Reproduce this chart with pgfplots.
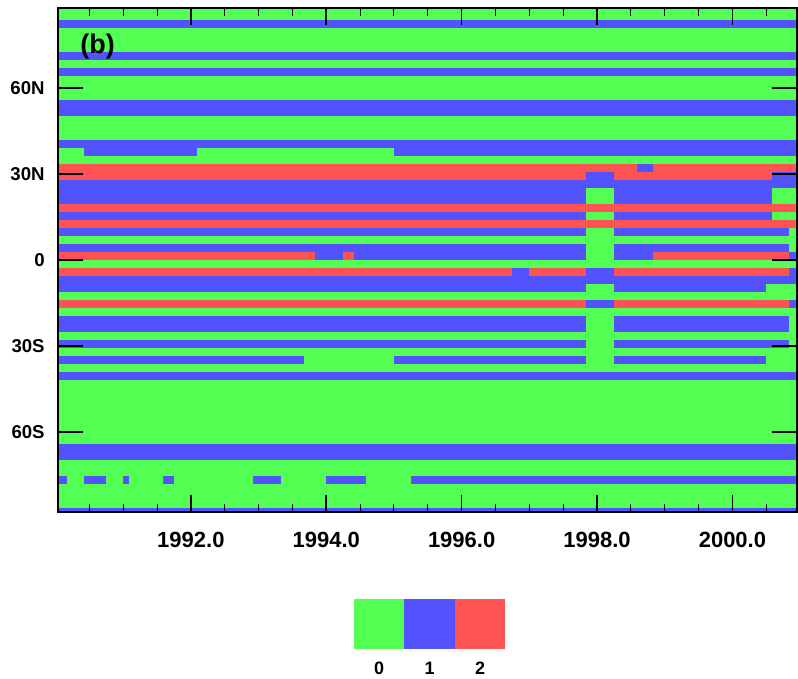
\documentclass[border=0pt]{standalone}
\usepackage{fontspec}
\setmainfont{Liberation Sans}
\usepackage{pgfplots}
\pgfplotsset{compat=1.18}
\definecolor{cg}{RGB}{82,255,82}
\definecolor{cb}{RGB}{82,82,255}
\definecolor{cr}{RGB}{255,82,82}
% x1 x2 (month boundaries), y1 y2 (Gaussian-grid row boundaries), colour
\newcommand{\B}[5]{\addplot[draw=none,fill=#5,forget plot] coordinates {(#1,#3) (#2,#3) (#2,#4) (#1,#4)};}
\begin{document}
\begin{tikzpicture}
\useasboundingbox (-29.15pt,-83.5pt) rectangle (369.85pt,256pt);
\begin{axis}[
  at={(0pt,0pt)}, anchor=south west, scale only axis,
  width=369.5pt, height=252pt,
  xmin=0, xmax=131, ymin=-31.485, ymax=31.485,
  axis line style={draw=none},
  xtick={23.5,47.5,71.5,95.5,119.5},
  xticklabels={1992.0,1994.0,1996.0,1998.0,2000.0},
  minor xtick={5.5,11.5,17.5,29.5,35.5,41.5,53.5,59.5,65.5,77.5,83.5,89.5,101.5,107.5,113.5,125.5},
  ytick=\empty,
  tick align=inside,
  major tick length=8.35pt, minor tick length=4.15pt,
  major tick style={line width=0.8pt,black},
  minor tick style={line width=0.5pt,black},
  xticklabel style={inner sep=0pt, anchor=north, yshift=-9.85pt, font=\bfseries\fontsize{11}{13}\selectfont},
  axis on top,
]
% background: category 0
\B{-1}{132}{-32}{32}{cg}
% ---- northern rows ----
\B{-1}{132}{29}{30}{cb}
\B{-1}{132}{25}{26}{cb}
\B{-1}{132}{23}{24}{cb}
\B{-1}{132}{18}{20}{cb}
\B{-1}{132}{14}{15}{cb}
\B{4.5}{24.5}{13}{14}{cb}
\B{59.5}{132}{13}{14}{cb}
\B{-1}{132}{10}{12}{cr}
\B{102.5}{105.5}{11}{12}{cb}
\B{93.5}{98.5}{10}{11}{cb}
\B{126.5}{132}{10}{11}{cb}
\B{-1}{132}{7}{10}{cb}
\B{93.5}{98.5}{7}{9}{cg}
\B{126.5}{132}{7}{9}{cg}
\B{-1}{132}{6}{7}{cr}
\B{-1}{132}{5}{6}{cb}
\B{93.5}{98.5}{5}{6}{cg}
\B{126.5}{132}{5}{6}{cg}
\B{-1}{132}{4}{5}{cr}
\B{-1}{93.5}{3}{4}{cb}
\B{98.5}{129.5}{3}{4}{cb}
\B{-1}{93.5}{1}{2}{cb}
\B{98.5}{129.5}{1}{2}{cb}
\B{-1}{45.5}{0}{1}{cr}
\B{45.5}{50.5}{0}{1}{cb}
\B{50.5}{52.5}{0}{1}{cr}
\B{52.5}{93.5}{0}{1}{cb}
\B{98.5}{105.5}{0}{1}{cb}
\B{105.5}{129.5}{0}{1}{cr}
\B{129.5}{132}{0}{1}{cb}
% ---- southern rows ----
\B{-1}{132}{-2}{-1}{cr}
\B{80.5}{83.5}{-2}{-1}{cb}
\B{93.5}{98.5}{-2}{-1}{cb}
\B{129.5}{132}{-2}{-1}{cb}
\B{-1}{132}{-3}{-2}{cb}
\B{-1}{93.5}{-4}{-3}{cb}
\B{98.5}{125.5}{-4}{-3}{cb}
\B{-1}{132}{-6}{-5}{cr}
\B{93.5}{98.5}{-6}{-5}{cb}
\B{129.5}{132}{-6}{-5}{cb}
\B{-1}{93.5}{-9}{-7}{cb}
\B{98.5}{129.5}{-9}{-7}{cb}
\B{-1}{93.5}{-11}{-10}{cb}
\B{98.5}{129.5}{-11}{-10}{cb}
\B{-1}{43.5}{-13}{-12}{cb}
\B{59.5}{93.5}{-13}{-12}{cb}
\B{98.5}{125.5}{-13}{-12}{cb}
\B{-1}{132}{-15}{-14}{cb}
\B{-1}{132}{-25}{-23}{cb}
\B{-1}{1.5}{-28}{-27}{cb}
\B{4.5}{8.5}{-28}{-27}{cb}
\B{11.5}{12.5}{-28}{-27}{cb}
\B{18.5}{20.5}{-28}{-27}{cb}
\B{34.5}{39.5}{-28}{-27}{cb}
\B{47.5}{54.5}{-28}{-27}{cb}
\B{62.5}{132}{-28}{-27}{cb}
\B{-1}{132}{-32}{-31}{cb}
\node[anchor=west, inner sep=0pt, font=\bfseries\fontsize{13.5}{16}\selectfont] at (rel axis cs:0.0294,0.9236) {(b)};
\end{axis}
% frame and latitude ticks
\begin{axis}[
  at={(0pt,0pt)}, anchor=south west, scale only axis,
  width=369.5pt, height=252pt,
  xmin=0, xmax=131, ymin=-31.485, ymax=31.485,
  axis line style={line width=1pt,black},
  xtick=\empty,
  ytick={-21.5,-10.75,0,10.75,21.5},
  yticklabels={60S,30S,0,30N,60N},
  tick align=inside,
  major tick length=12.5pt,
  major tick style={line width=0.8pt,black},
  yticklabel style={inner sep=0pt, anchor=east, xshift=-6.65pt, font=\bfseries\fontsize{9.3}{11}\selectfont},
]
\addplot[draw=none, forget plot] coordinates {(0,0)};
\end{axis}
% label bar
\begin{axis}[
  at={(147.75pt,-68.35pt)}, anchor=south west, scale only axis,
  width=75.75pt, height=24.85pt,
  xmin=0, xmax=3, ymin=0, ymax=1,
  axis line style={draw=none},
  major tick length=0pt,
  ytick=\empty,
  xtick={0.5,1.5,2.5}, xticklabels={0,1,2},
  xticklabel style={inner sep=0pt, anchor=north, yshift=-6.6pt, font=\bfseries\fontsize{9}{11}\selectfont},
]
\addplot[draw=none, fill=cg] coordinates {(0,0) (1,0) (1,1) (0,1)};
\addplot[draw=none, fill=cb] coordinates {(1,0) (2,0) (2,1) (1,1)};
\addplot[draw=none, fill=cr] coordinates {(2,0) (3,0) (3,1) (2,1)};
\end{axis}
\end{tikzpicture}
\end{document}
